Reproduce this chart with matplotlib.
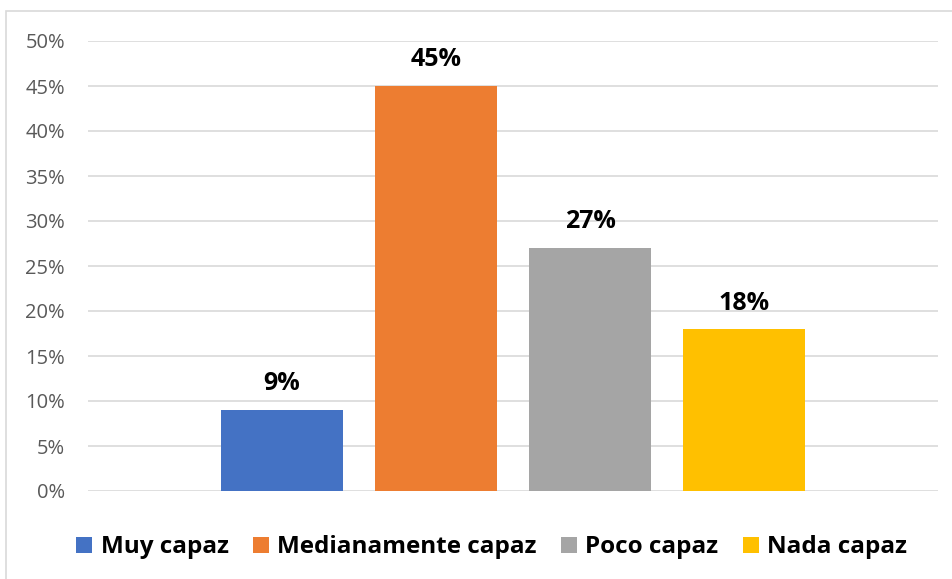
import matplotlib.pyplot as plt
from matplotlib.patches import Rectangle

# data
categories = ["Muy capaz", "Medianamente capaz", "Poco capaz", "Nada capaz"]
values = [0.09, 0.45, 0.27, 0.18]
colors = ["#4472C4", "#ED7D31", "#A5A5A5", "#FFC000"]
yticks = [0, 0.05, 0.10, 0.15, 0.20, 0.25, 0.30, 0.35, 0.40, 0.45, 0.50]

W, H = 952, 579
fig = plt.figure(figsize=(W / 100, H / 100), dpi=100)
fig.patch.set_facecolor("white")

# outer chart border (runs off the right and bottom edges)
fig.patches.append(Rectangle((6 / W, -0.1), 1.2, (H - 11) / H + 0.1,
                             transform=fig.transFigure, fill=False,
                             edgecolor="#D9D9D9", linewidth=1.2))

ax = fig.add_axes([88 / W, (H - 491) / H, 850 / W, 450 / H])

font = "Open Sans"
for i, (cat, v, c) in enumerate(zip(categories, values, colors)):
    ax.bar(i, v, width=0.792, color=c, label=cat, zorder=3)
    ax.text(i, v + 0.015, f"{round(v * 100)}%", ha="center", va="bottom",
            fontsize=18, fontweight="bold", family=font, color="black")

ax.set_xlim(-1.26, 4.26)
ax.set_ylim(0, 0.5)
ax.set_yticks(yticks)
ax.set_yticklabels([f"{round(t * 100)}%" for t in yticks], family=font,
                   fontsize=14.5, color="#595959")
ax.set_xticks([])
ax.tick_params(axis="y", length=0, pad=16.5)
ax.grid(axis="y", color="#D9D9D9", linewidth=1.2, zorder=0)
for s in ax.spines.values():
    s.set_visible(False)

ax.legend(loc="center", bbox_to_anchor=(0.475, -0.125), ncol=4, frameon=False,
          prop={"family": font, "weight": "bold", "size": 17.5},
          handlelength=0.65, handleheight=0.65, handletextpad=0.35,
          columnspacing=1.0)

fig.savefig("out.png", dpi=100)
